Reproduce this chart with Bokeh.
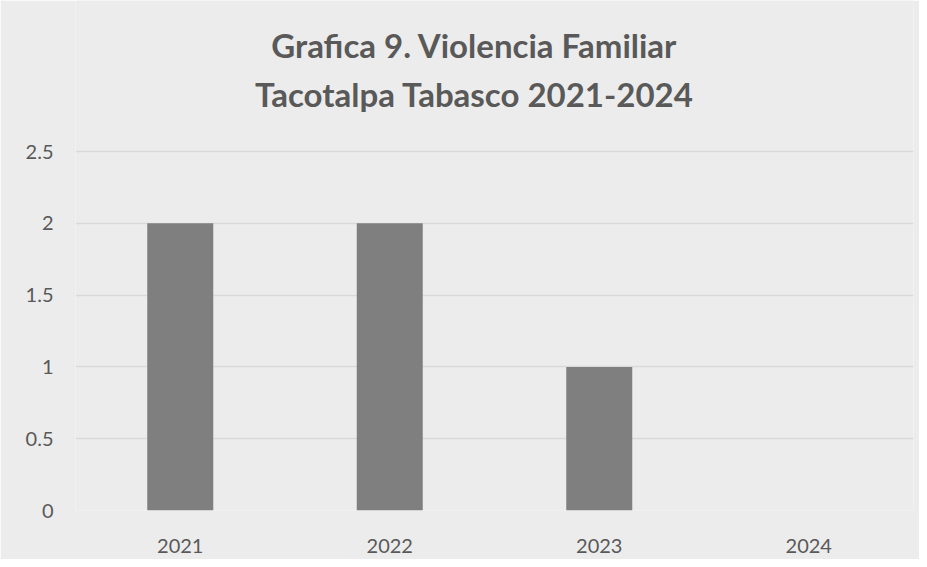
from bokeh.plotting import figure
from bokeh.models import Range1d, FactorRange, Label
from bokeh.embed import file_html
from bokeh.resources import INLINE

years = ["2021", "2022", "2023", "2024"]
cases = [2, 2, 1, 0]
title_lines = ["Grafica 9. Violencia Familiar", "Tacotalpa Tabasco 2021-2024"]
y_ticks = [0, 0.5, 1, 1.5, 2, 2.5]
y_tick_labels = {0: "0", 0.5: "0.5", 1: "1", 1.5: "1.5", 2: "2", 2.5: "2.5"}

BG = "#ececec"
TXT = "#595959"

# frame spans the full height so the title can sit inside it
p = figure(
    x_range=FactorRange(*years, range_padding=0),
    y_range=Range1d(0, 3.552),
    width=919, height=559,
    min_border_left=75, min_border_right=6,
    min_border_top=0, min_border_bottom=49,
    output_backend="svg", toolbar_location=None,
    background_fill_color=BG, border_fill_color=BG,
)
p.outline_line_color = None

p.vbar(x=years, top=cases, width=0.315, fill_color="#7f7f7f", line_color=None)

# axes
p.xaxis.axis_line_color = None
p.yaxis.axis_line_color = None
p.xaxis.major_tick_line_color = None
p.yaxis.major_tick_line_color = None
p.xaxis.minor_tick_line_color = None
p.yaxis.minor_tick_line_color = None
p.xaxis.major_tick_out = 0
p.yaxis.major_tick_out = 0
p.yaxis.ticker = y_ticks
p.yaxis.major_label_overrides = y_tick_labels
for ax in (p.xaxis, p.yaxis):
    ax.major_label_text_font = "Lato"
    ax.major_label_text_font_size = "20px"
    ax.major_label_text_color = TXT
p.xaxis.major_label_standoff = 28
p.yaxis.major_label_standoff = 22

p.xgrid.grid_line_color = None
p.ygrid.grid_line_color = "#d9d9d9"
p.ygrid.grid_line_width = 1.5

# two-line title
for line, yy in zip(title_lines, [3.239, 2.904]):
    p.add_layout(Label(
        x=1.9045, y=yy, text=line,
        text_align="center", text_baseline="middle",
        text_font="Lato", text_font_style="bold",
        text_font_size="33px", text_color=TXT,
    ))

open("out.html", "w").write(file_html(p, INLINE))
